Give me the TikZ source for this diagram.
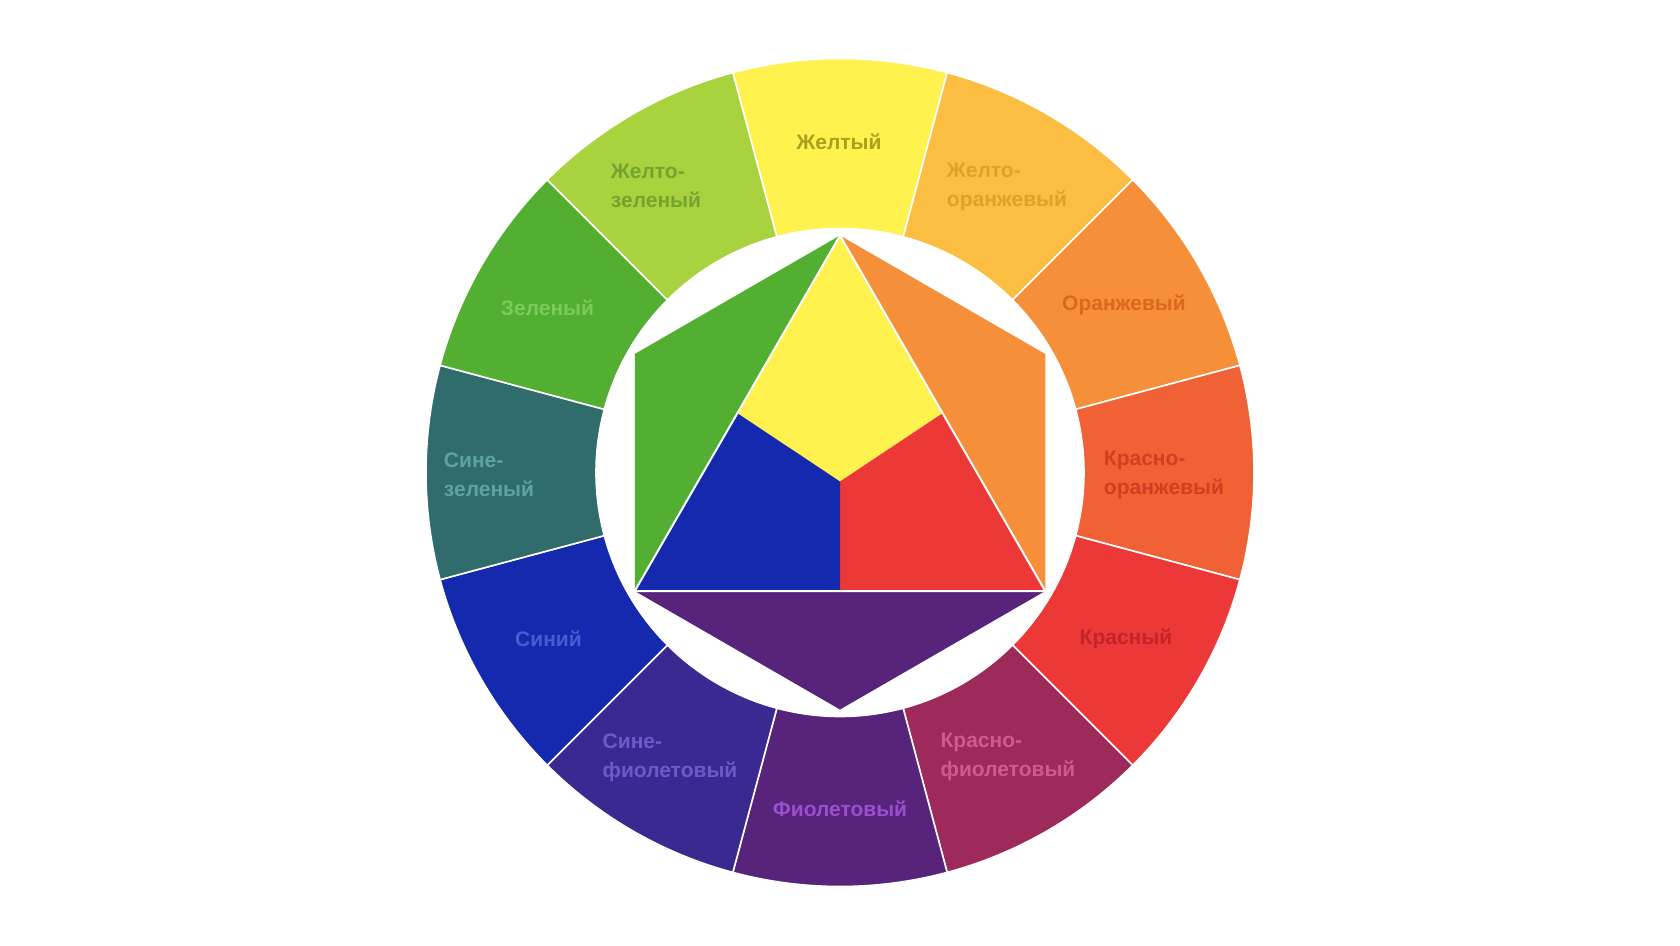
\documentclass[tikz,border=0pt]{standalone}
\usepackage{fontspec}
\setmainfont{Liberation Sans}
\usetikzlibrary{calc}
\definecolor{cyellow}{RGB}{255,242,78}
\definecolor{cyelorange}{RGB}{251,190,67}
\definecolor{corange}{RGB}{245,143,57}
\definecolor{credorange}{RGB}{240,97,54}
\definecolor{cred}{RGB}{236,56,54}
\definecolor{credviolet}{RGB}{157,42,91}
\definecolor{cviolet}{RGB}{88,35,122}
\definecolor{cblueviolet}{RGB}{58,41,145}
\definecolor{cblue}{RGB}{20,41,173}
\definecolor{cbluegreen}{RGB}{48,108,107}
\definecolor{cgreen}{RGB}{82,175,50}
\definecolor{cyelgreen}{RGB}{168,211,63}
\definecolor{tyellow}{RGB}{169,160,32}
\definecolor{tyelorange}{RGB}{220,162,42}
\definecolor{torange}{RGB}{216,105,31}
\definecolor{tredorange}{RGB}{208,64,32}
\definecolor{tred}{RGB}{196,36,39}
\definecolor{tredviolet}{RGB}{208,90,142}
\definecolor{tviolet}{RGB}{154,79,207}
\definecolor{tblueviolet}{RGB}{106,91,200}
\definecolor{tblue}{RGB}{74,91,208}
\definecolor{tbluegreen}{RGB}{95,163,160}
\definecolor{tgreen}{RGB}{122,203,90}
\definecolor{tyelgreen}{RGB}{116,164,44}

\begin{document}
\begin{tikzpicture}[x=1pt,y=1pt,
    lbl/.style={font=\fontsize{21}{29}\selectfont\bfseries,align=left,inner sep=0pt},
    seg/.style={draw=white,line width=1.6pt}]
  \useasboundingbox (-840,-472.5) rectangle (840,472.5);
  \fill[white] (-840,-472.5) rectangle (840,472.5);
  % outer ring, twelve parts
  \filldraw[seg,fill=cyellow] (75:244) arc[start angle=75,end angle=105,radius=244]
    -- (105:414) arc[start angle=105,end angle=75,radius=414] -- cycle;
  \filldraw[seg,fill=cyelorange] (45:244) arc[start angle=45,end angle=75,radius=244]
    -- (75:414) arc[start angle=75,end angle=45,radius=414] -- cycle;
  \filldraw[seg,fill=corange] (15:244) arc[start angle=15,end angle=45,radius=244]
    -- (45:414) arc[start angle=45,end angle=15,radius=414] -- cycle;
  \filldraw[seg,fill=credorange] (-15:244) arc[start angle=-15,end angle=15,radius=244]
    -- (15:414) arc[start angle=15,end angle=-15,radius=414] -- cycle;
  \filldraw[seg,fill=cred] (-45:244) arc[start angle=-45,end angle=-15,radius=244]
    -- (-15:414) arc[start angle=-15,end angle=-45,radius=414] -- cycle;
  \filldraw[seg,fill=credviolet] (-75:244) arc[start angle=-75,end angle=-45,radius=244]
    -- (-45:414) arc[start angle=-45,end angle=-75,radius=414] -- cycle;
  \filldraw[seg,fill=cviolet] (-105:244) arc[start angle=-105,end angle=-75,radius=244]
    -- (-75:414) arc[start angle=-75,end angle=-105,radius=414] -- cycle;
  \filldraw[seg,fill=cblueviolet] (-135:244) arc[start angle=-135,end angle=-105,radius=244]
    -- (-105:414) arc[start angle=-105,end angle=-135,radius=414] -- cycle;
  \filldraw[seg,fill=cblue] (-165:244) arc[start angle=-165,end angle=-135,radius=244]
    -- (-135:414) arc[start angle=-135,end angle=-165,radius=414] -- cycle;
  \filldraw[seg,fill=cbluegreen] (165:244) arc[start angle=165,end angle=195,radius=244]
    -- (195:414) arc[start angle=195,end angle=165,radius=414] -- cycle;
  \filldraw[seg,fill=cgreen] (135:244) arc[start angle=135,end angle=165,radius=244]
    -- (165:414) arc[start angle=165,end angle=135,radius=414] -- cycle;
  \filldraw[seg,fill=cyelgreen] (105:244) arc[start angle=105,end angle=135,radius=244]
    -- (135:414) arc[start angle=135,end angle=105,radius=414] -- cycle;
  % inner hexagon
  \coordinate (top) at (90:237);
  \coordinate (botleft) at (210:237);
  \coordinate (botright) at (330:237);
  \coordinate (hexgreen) at (150:237);
  \coordinate (hexorange) at (30:237);
  \coordinate (hexviolet) at (270:237);
  \coordinate (midleft) at ($(top)!0.5!(botleft)$);
  \coordinate (midright) at ($(top)!0.5!(botright)$);
  \coordinate (midbot) at (0,-118.5);
  \coordinate (core) at (0,-9);
  \fill[cgreen] (top) -- (hexgreen) -- (botleft) -- cycle;
  \fill[corange] (top) -- (hexorange) -- (botright) -- cycle;
  \fill[cviolet] (botleft) -- (hexviolet) -- (botright) -- cycle;
  \fill[cyellow] (top) -- (midright) -- (core) -- (midleft) -- cycle;
  \fill[cred] (midright) -- (botright) -- (midbot) -- (core) -- cycle;
  \fill[cblue] (midleft) -- (core) -- (midbot) -- (botleft) -- cycle;
  \draw[white,line width=2pt] (top) -- (botleft) -- (botright) -- cycle;
  % labels
  \node[lbl,text=tyellow] (lyellow) at (-1,331) {Желтый};
  \node[lbl,text=tyelorange] (lyelorange) at (167,286) {Желто-\\оранжевый};
  \node[lbl,text=torange] (lorange) at (284,168) {Оранжевый};
  \node[lbl,text=tredorange] (lredorange) at (324,-2) {Красно-\\оранжевый};
  \node[lbl,text=tred] (lred) at (286,-166) {Красный};
  \node[lbl,text=tredviolet] (lredviolet) at (168,-284.5) {Красно-\\фиолетовый};
  \node[lbl,text=tviolet] (lviolet) at (0,-336) {Фиолетовый};
  \node[lbl,text=tblueviolet] (lblueviolet) at (-170,-285) {Сине-\\фиолетовый};
  \node[lbl,text=tblue] (lblue) at (-291.5,-166) {Синий};
  \node[lbl,text=tbluegreen] (lbluegreen) at (-351,-2.5) {Сине-\\зеленый};
  \node[lbl,text=tgreen] (lgreen) at (-292.5,165) {Зеленый};
  \node[lbl,text=tyelgreen] (lyelgreen) at (-184,287) {Желто-\\зеленый};
\end{tikzpicture}
\end{document}
